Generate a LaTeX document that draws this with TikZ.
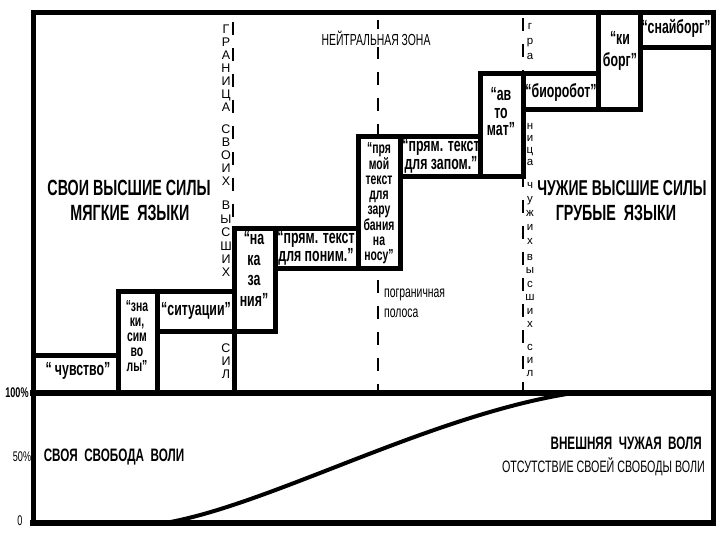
\documentclass[tikz,border=0pt]{standalone}
\usepackage{fontspec}
\setmainfont{Liberation Sans}
\newfontfamily\narrowfont[FakeStretch=0.65]{Liberation Sans}
\usetikzlibrary{calc}

\newcommand{\bxfont}[2]{\narrowfont\bfseries\fontsize{#1}{#2}\selectfont}
\newcommand{\vlfont}[1]{\fontsize{12.5}{#1}\selectfont}
\newcommand{\vsfont}[1]{\fontsize{11.5}{#1}\selectfont}

\begin{document}
\begin{tikzpicture}[x=1pt, y=-1pt,
    frame/.style={line width=5pt, line cap=rect},
    axisline/.style={line width=6.5pt, line cap=rect},
    stepbox/.style={line width=5pt, fill=white},
    border/.style={line width=2.2pt, dash pattern=on 13pt off 13pt},
    boxtext/.style={align=center, inner sep=0pt},
    heading/.style={inner sep=0pt, font=\narrowfont\bfseries\fontsize{22}{24}\selectfont},
    plain/.style={inner sep=0pt, font=\narrowfont\fontsize{16}{20}\selectfont},
    letters/.style={align=center, inner sep=0pt}]
  \useasboundingbox (0,0) rectangle (720,540);

  % Draw the border lines (dashed)
  \draw[border] (233,22) -- (233,229);
  \draw[border] (378,20) -- (378,393);
  \draw[border] (523,18) -- (523,393);

  % Draw the staircase of boxes
  \draw[stepbox] (33,355) rectangle (118,393);
  \draw[stepbox] (118,291) rectangle (157,393);
  \draw[stepbox] (157,291) rectangle (234,331);
  \draw[stepbox] (234,229) rectangle (275,331);
  \draw[stepbox] (275,229) rectangle (358,268);
  \draw[stepbox] (358,137) rectangle (400,268);
  \draw[stepbox] (400,137) rectangle (480,177);
  \draw[stepbox] (480,74) rectangle (523,177);
  \draw[stepbox] (523,74) rectangle (598,110);
  \draw[stepbox] (598,13) rectangle (640,110);
  \draw[stepbox] (640,13) rectangle (713,48);
  \draw[line width=5pt] (234,331) -- (234,393);

  % Draw the frame and the scale
  \draw[frame] (33,13) -- (713,13);
  \draw[frame] (33,13) -- (33,523);
  \draw[frame] (713,13) -- (713,523);
  \draw[axisline] (33,393) -- (713,393);
  \draw[axisline] (33,523) -- (713,523);

  % Draw the curve of the will
  \draw[line width=4pt] (165,523) .. controls (270,505) and (430,415) .. (573,393);

  % Texts in the boxes
  \node[boxtext, font=\bxfont{19}{15}] (chuvstvo) at (78,371) {“\,чувство”};
  \node[boxtext, font=\bxfont{16}{15}] (znaki) at (137,336) {“зна\\ки,\\сим\\во\\лы”};
  \node[boxtext, font=\bxfont{19}{15}] (situacii) at (196,311) {“ситуации”};
  \node[boxtext, font=\bxfont{19}{20.7}] (nakaz) at (254,269) {“на\\ка\\за\\ния”};
  \node[boxtext, font=\bxfont{19}{16}] (ponim) at (316,248) {“прям. текст\\для поним.”};
  \node[boxtext, font=\bxfont{16}{15}] (zarub) at (379,203) {“пря\\мой\\текст\\для\\зару\\бания\\на\\носу”};
  \node[boxtext, font=\bxfont{19}{16}] (zapom) at (441,156) {“прям. текст\\для запом.”};
  \node[boxtext, font=\bxfont{19}{17.5}] (avtomat) at (501,112) {“ав\\то\\мат”};
  \node[boxtext, font=\bxfont{19}{15}] (bio) at (561,93) {“биоробот”};
  \node[boxtext, font=\bxfont{19}{22}] (kiborg) at (620,51) {“ки\\борг”};
  \node[boxtext, font=\bxfont{19}{15}] (snai) at (676,28) {“снайборг”};

  % Headings
  \node[heading] (svoi) at (129,188) {СВОИ ВЫСШИЕ СИЛЫ};
  \node[heading] (myag) at (130,213) {МЯГКИЕ \ ЯЗЫКИ};
  \node[heading, font=\narrowfont\bfseries\fontsize{21.5}{24}\selectfont] (chuzh) at (622,188) {ЧУЖИЕ ВЫСШИЕ СИЛЫ};
  \node[heading] (grub) at (616,213) {ГРУБЫЕ \ ЯЗЫКИ};
  \node[plain, fill=white, inner sep=2pt] (neitr) at (376,38) {НЕЙТРАЛЬНАЯ ЗОНА};
  \node[plain, align=left, anchor=west] (pogr) at (384,303) {пограничная\\полоса};

  % Vertical letters of the borders
  \node[letters, font=\vlfont{13}] (gran) at (226,68) {Г\\Р\\А\\Н\\И\\Ц\\А};
  \node[letters, font=\vlfont{13}] (svoih) at (226,155) {С\\В\\О\\И\\Х};
  \node[letters, font=\vlfont{13.4}] (vysshih) at (226,239) {В\\Ы\\С\\Ш\\И\\Х};
  \node[letters, font=\vlfont{13}] (sil) at (226,361) {С\\И\\Л};
  \node[letters, font=\vsfont{15}] (gra) at (530,42) {г\\р\\а};
  \node[letters, font=\vsfont{12}] (nica) at (530,145) {н\\и\\ц\\а};
  \node[letters, font=\vsfont{14}] (chuzhih) at (530,213) {ч\\у\\ж\\и\\х};
  \node[letters, font=\vsfont{13.4}] (vysshih2) at (530,291) {в\\ы\\с\\ш\\и\\х};
  \node[letters, font=\vsfont{13}] (sil2) at (530,360) {с\\и\\л};

  % Scale labels and will texts
  \node[inner sep=0pt, font=\narrowfont\bfseries\fontsize{14}{16}\selectfont] (p100) at (17,393) {100\%};
  \node[inner sep=0pt, font=\narrowfont\fontsize{14}{16}\selectfont] (p50) at (22,457) {50\%};
  \node[inner sep=0pt, font=\narrowfont\fontsize{14}{16}\selectfont] (p0) at (20,521) {0};
  \node[heading, font=\narrowfont\bfseries\fontsize{18}{20}\selectfont] (svoya) at (114,457) {СВОЯ \ СВОБОДА \ ВОЛИ};
  \node[heading, anchor=east, font=\narrowfont\bfseries\fontsize{18}{20}\selectfont] (vnesh) at (702,443) {ВНЕШНЯЯ \ ЧУЖАЯ \ ВОЛЯ};
  \node[plain, anchor=east, font=\narrowfont\fontsize{16.5}{20}\selectfont] (otsut) at (705,467) {ОТСУТСТВИЕ СВОЕЙ СВОБОДЫ ВОЛИ};
\end{tikzpicture}
\end{document}
